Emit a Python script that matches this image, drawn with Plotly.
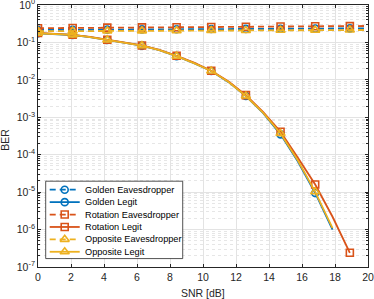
import plotly.graph_objects as go

# ---------------- data ----------------
snr = [0, 1.05, 2.1, 3.15, 4.2, 5.25, 6.3, 7.35, 8.4, 9.45, 10.5, 11.55,
       12.6, 13.65, 14.7, 15.75, 16.8, 17.85, 18.9, 19.95]

golden_eve = [0.215, 0.216, 0.218, 0.219, 0.220, 0.222, 0.223, 0.224, 0.225, 0.227,
              0.228, 0.229, 0.230, 0.231, 0.232, 0.234, 0.235, 0.236, 0.237, 0.238]
golden_legit = [0.175, 0.168, 0.158, 0.138, 0.116, 0.099, 0.082, 0.062, 0.043, 0.028,
                0.0172, 0.0087, 0.0037, 0.00129, 3.5e-4, 6.6e-5, 9.5e-6, 1.0e-6]

rotation_eve = [0.240, 0.242, 0.244, 0.246, 0.248, 0.250, 0.252, 0.254, 0.255, 0.257,
                0.259, 0.261, 0.263, 0.265, 0.266, 0.268, 0.270, 0.272, 0.273, 0.275]
rotation_legit = [0.180, 0.171, 0.160, 0.140, 0.118, 0.100, 0.083, 0.063, 0.044, 0.029,
                  0.0175, 0.0090, 0.0039, 0.00137, 4.1e-4, 8.3e-5, 1.6e-5, 2.2e-6, 2.4e-7]

opposite_eve = [0.199, 0.200, 0.201, 0.202, 0.203, 0.204, 0.204, 0.205, 0.206, 0.207,
                0.208, 0.209, 0.209, 0.210, 0.211, 0.212, 0.213, 0.213, 0.214, 0.215]
opposite_legit = [0.176, 0.169, 0.159, 0.139, 0.117, 0.099, 0.082, 0.062, 0.043, 0.028,
                  0.0172, 0.0088, 0.0037, 0.00131, 3.7e-4, 7.0e-5, 1.02e-5, 1.1e-6]

x_ticks = [0, 2, 4, 6, 8, 10, 12, 14, 16, 18, 20]
y_ticks = [1e-7, 1e-6, 1e-5, 1e-4, 1e-3, 1e-2, 1e-1, 1e0]
y_tick_text = ["10<sup>-7</sup>", "10<sup>-6</sup>", "10<sup>-5</sup>", "10<sup>-4</sup>",
               "10<sup>-3</sup>", "10<sup>-2</sup>", "10<sup>-1</sup>", "10<sup>0</sup>"]

series = [
    ("Golden Eavesdropper", golden_eve, "#0072BD", "circle-open", "dash"),
    ("Golden Legit", golden_legit, "#0072BD", "circle-open", "solid"),
    ("Rotation Eavesdropper", rotation_eve, "#D95319", "square-open", "dash"),
    ("Rotation Legit", rotation_legit, "#D95319", "square-open", "solid"),
    ("Opposite Eavesdropper", opposite_eve, "#EDB120", "triangle-up-open", "dash"),
    ("Opposite Legit", opposite_legit, "#EDB120", "triangle-up-open", "solid"),
]

FONT = "Liberation Sans, Arial, Helvetica, sans-serif"
AX = "#262626"
DASH = "6px,4px"

fig = go.Figure()
for name, vals, color, sym, dash in series:
    xs = snr[:len(vals)]
    mcolors = [color if i % 2 == 0 else "rgba(0,0,0,0)" for i in range(len(vals))]
    fig.add_trace(go.Scatter(
        x=xs, y=vals, name=name, mode="lines+markers", showlegend=False,
        line=dict(color=color, width=1.8, dash=DASH if dash == "dash" else "solid"),
        marker=dict(symbol=sym, size=7 if "triangle" not in sym else 8,
                    color=mcolors, line=dict(width=1.6)),
    ))

# ---------------- custom compact legend (overlay axes in plot-area fractions) ----------------
LB_X0, LB_X1, LB_Y0, LB_Y1 = 0.0233, 0.4385, 0.0321, 0.3275
LEG_Y = [0.295, 0.2476, 0.2002, 0.1528, 0.1055, 0.0581]
LS_X0, LS_XM, LS_X1, LT_X = 0.0355, 0.0809, 0.1264, 0.1355

fig.add_trace(go.Scatter(
    x=[LB_X0, LB_X1, LB_X1, LB_X0, LB_X0], y=[LB_Y0, LB_Y0, LB_Y1, LB_Y1, LB_Y0],
    xaxis="x2", yaxis="y2", mode="lines", fill="toself", fillcolor="white",
    line=dict(color=AX, width=0.8), showlegend=False, hoverinfo="skip",
))
for (name, vals, color, sym, dash), ly in zip(series, LEG_Y):
    fig.add_trace(go.Scatter(
        x=[LS_X0, LS_XM, LS_X1], y=[ly, ly, ly], xaxis="x2", yaxis="y2",
        mode="lines+markers", showlegend=False, hoverinfo="skip",
        line=dict(color=color, width=1.8, dash=DASH if dash == "dash" else "solid"),
        marker=dict(symbol=sym, size=7 if "triangle" not in sym else 8,
                    color=["rgba(0,0,0,0)", color, "rgba(0,0,0,0)"], line=dict(width=1.6)),
    ))
    fig.add_annotation(x=LT_X, y=ly, xref="x2", yref="y2", text=name, showarrow=False,
                       xanchor="left", yanchor="middle",
                       font=dict(size=9.2, color="#000000", family=FONT))

# axis titles
fig.add_annotation(x=0.5, y=-0.1005, xref="paper", yref="paper", text="SNR [dB]",
                   showarrow=False, xanchor="center", yanchor="middle",
                   font=dict(size=10.5, color=AX, family=FONT))
fig.add_annotation(x=-0.098, y=0.484, xref="paper", yref="paper", text="BER",
                   showarrow=False, xanchor="center", yanchor="middle", textangle=-90,
                   font=dict(size=10.5, color=AX, family=FONT))

fig.update_layout(
    width=374, height=299,
    margin=dict(l=38, r=6, t=5, b=32, autoexpand=False),
    paper_bgcolor="white", plot_bgcolor="white",
    font=dict(family=FONT, size=10, color=AX),
    showlegend=False,
    xaxis2=dict(overlaying="x", range=[0, 1], visible=False, fixedrange=True),
    yaxis2=dict(overlaying="y", range=[0, 1], visible=False, fixedrange=True),
)
fig.layout.xaxis.update(
    range=[0, 20], tickvals=x_ticks, ticks="inside", ticklen=3, tickcolor=AX,
    showline=True, linecolor=AX, linewidth=0.8, mirror="ticks",
    showgrid=True, gridcolor="#e3e3e3", gridwidth=0.8, zeroline=False,
    tickfont=dict(size=10.5), automargin=False, ticklabeloverflow="allow",
)
fig.layout.yaxis.update(
    type="log", range=[-7, 0], tickvals=y_ticks, ticktext=y_tick_text,
    ticks="inside", ticklen=3, tickcolor=AX,
    showline=True, linecolor=AX, linewidth=0.8, mirror="ticks",
    showgrid=True, gridcolor="#e3e3e3", gridwidth=0.8, zeroline=False,
    minor=dict(dtick="D1", showgrid=True, gridcolor="#e6e6e6", griddash="dot",
               gridwidth=0.7, ticks="inside", ticklen=2, tickcolor=AX),
    tickfont=dict(size=10.5), automargin=False, ticklabeloverflow="allow",
)

fig.write_html("out.html", config={"displayModeBar": False},
               post_script="document.body.style.margin='0px';document.body.style.overflow='hidden';")
